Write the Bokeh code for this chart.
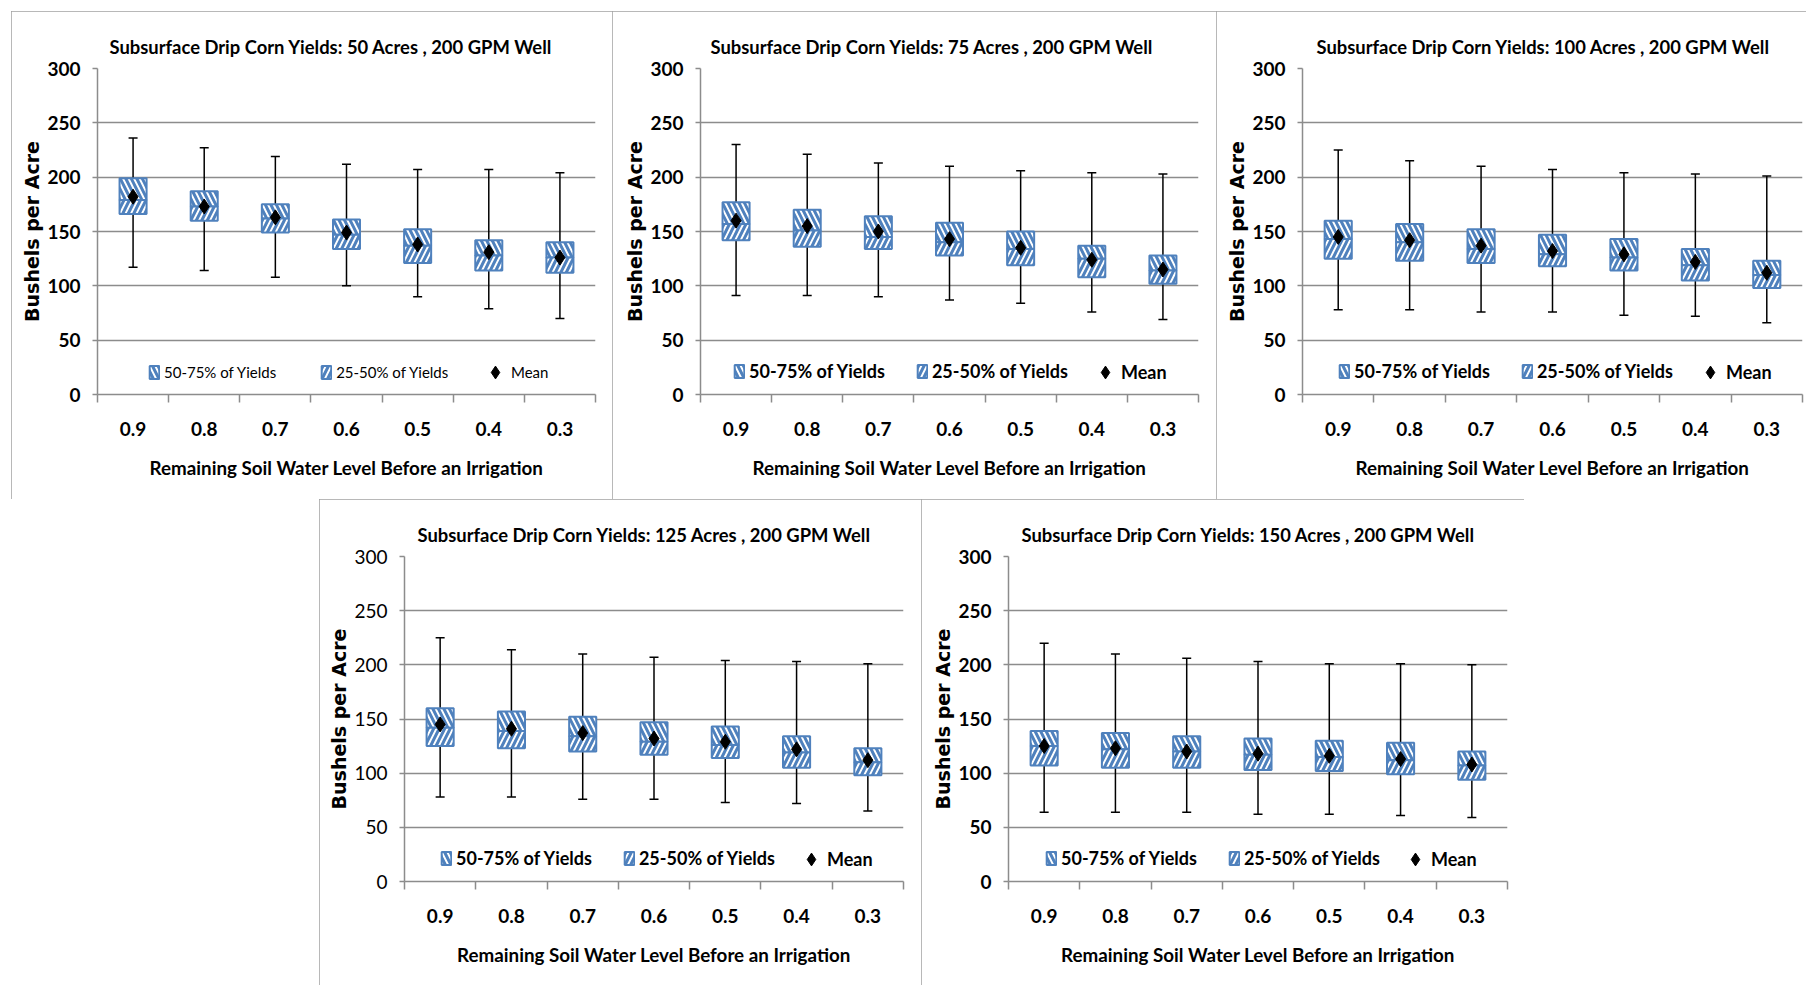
from bokeh.plotting import figure
from bokeh.models import Range1d, FixedTicker, ColumnDataSource, Spacer, Legend, LegendItem
from bokeh.core.properties import value
from bokeh.layouts import row, column
from bokeh.embed import file_html
from bokeh.resources import INLINE

# ---------------- data ----------------
levels = ["0.9", "0.8", "0.7", "0.6", "0.5", "0.4", "0.3"]
y_ticks = [0, 50, 100, 150, 200, 250, 300]
acres = [50, 75, 100, 125, 150]

high_50 = [236, 227, 219, 212, 207, 207, 204]
q3_50 = [199, 187, 175, 161, 152, 142, 140]
med_50 = [179, 173, 162, 147, 137, 128, 126]
q1_50 = [166, 160, 149, 134, 121, 114, 112]
low_50 = [117, 114, 108, 100, 90, 79, 70]
mean_50 = [182, 173, 163, 149, 138, 131, 126]

high_75 = [230, 221, 213, 210, 206, 204, 203]
q3_75 = [177, 170, 164, 158, 150, 137, 128]
med_75 = [157, 151, 145, 140, 134, 125, 114]
q1_75 = [142, 136, 134, 128, 119, 108, 102]
low_75 = [91, 91, 90, 87, 84, 76, 69]
mean_75 = [160, 155, 150, 143, 135, 124, 115]

high_100 = [225, 215, 210, 207, 204, 203, 201]
q3_100 = [160, 157, 152, 147, 143, 134, 123]
med_100 = [143, 140, 134, 129, 126, 119, 110]
q1_100 = [125, 123, 121, 118, 114, 105, 98]
low_100 = [78, 78, 76, 76, 73, 72, 66]
mean_100 = [145, 142, 137, 132, 129, 122, 112]

high_125 = [225, 214, 210, 207, 204, 203, 201]
q3_125 = [160, 157, 152, 147, 143, 134, 123]
med_125 = [142, 139, 134, 129, 126, 119, 110]
q1_125 = [125, 123, 120, 117, 114, 105, 98]
low_125 = [78, 78, 76, 76, 73, 72, 65]
mean_125 = [145, 141, 137, 132, 129, 122, 112]

high_150 = [220, 210, 206, 203, 201, 201, 200]
q3_150 = [139, 137, 134, 132, 130, 128, 120]
med_150 = [125, 122, 120, 117, 115, 112, 107]
q1_150 = [107, 105, 105, 103, 102, 99, 94]
low_150 = [64, 64, 64, 62, 62, 61, 59]
mean_150 = [125, 123, 120, 118, 116, 113, 108]

# ---------------- style ----------------
FONT = "Lato"
YFONT = "DejaVu Sans"
BLUE = "#4F81BD"
GRID = "#8C8C8C"
BORDER = "#A0A0A0"


def make_panel(acre, low, q1, med, q3, high, mean, w, h, ml, mr, mt, mb,
               title_off, leg_x, mean_x, bold_ticks=True, small_legend=False):
    p = figure(width=w, height=h, x_range=Range1d(0, len(levels)),
               y_range=Range1d(y_ticks[0], y_ticks[-1]),
               output_backend="svg", toolbar_location=None,
               min_border_left=ml, min_border_right=mr,
               min_border_top=mt, min_border_bottom=mb)
    p.styles = {"outline": f"1px solid {BORDER}", "outline-offset": "-1px"}
    p.outline_line_color = None
    p.background_fill_color = "white"
    p.border_fill_color = "white"

    xs = [i + 0.5 for i in range(len(levels))]
    src = ColumnDataSource(dict(x=xs, low=low, q1=q1, med=med, q3=q3,
                                high=high, mean=mean))

    p.segment(x0="x", y0="low", x1="x", y1="high", source=src,
              line_color="black", line_width=1.5)
    p.scatter(x="x", y="low", marker="dash", size=9, line_color="black",
              line_width=1.5, source=src)
    p.scatter(x="x", y="high", marker="dash", size=9, line_color="black",
              line_width=1.5, source=src)

    hatch = dict(fill_color="white", hatch_color=BLUE, hatch_weight=3,
                 hatch_scale=11, line_color=BLUE, line_width=2)
    upper = p.vbar(x="x", bottom="med", top="q3", width=0.38, source=src,
                   hatch_pattern="\\", **hatch)
    lower = p.vbar(x="x", bottom="q1", top="med", width=0.38, source=src,
                   hatch_pattern="/", **hatch)
    m = p.scatter(x="x", y="mean", marker="diamond", size=15, color="black",
                  source=src)

    # title
    p.title.text = f"Subsurface Drip Corn Yields: {acre} Acres , 200 GPM Well"
    p.title.align = "left"
    p.title.offset = title_off
    p.title.text_font = FONT
    p.title.text_font_size = "18.4px"
    p.title.text_font_style = "bold"
    p.title.text_color = "black"
    p.title.standoff = 22

    # x axis
    xa = p.xaxis[0]
    xa.ticker = FixedTicker(ticks=xs, minor_ticks=list(range(len(levels) + 1)))
    xa.major_label_overrides = {x: lab for x, lab in zip(xs, levels)}
    xa.major_tick_line_color = None
    xa.major_tick_out = 0
    xa.major_tick_in = 0
    xa.minor_tick_in = 0
    xa.minor_tick_out = 8
    xa.minor_tick_line_color = GRID
    xa.minor_tick_line_width = 1.5
    xa.axis_line_color = GRID
    xa.axis_line_width = 1.5
    xa.major_label_text_font = FONT
    xa.major_label_text_font_size = "19px"
    xa.major_label_text_font_style = "bold"
    xa.major_label_text_color = "black"
    xa.major_label_standoff = 19
    xa.axis_label = "Remaining Soil Water Level Before an Irrigation"
    xa.axis_label_text_font = FONT
    xa.axis_label_text_font_size = "18.8px"
    xa.axis_label_text_font_style = "bold"
    xa.axis_label_text_color = "black"
    xa.axis_label_standoff = 17

    # y axis
    ya = p.yaxis[0]
    ya.ticker = FixedTicker(ticks=y_ticks)
    ya.major_tick_out = 5
    ya.major_tick_in = 0
    ya.major_tick_line_color = GRID
    ya.major_tick_line_width = 1.5
    ya.minor_tick_line_color = None
    ya.axis_line_color = GRID
    ya.axis_line_width = 1.5
    ya.major_label_text_font = FONT
    ya.major_label_text_font_size = "19px"
    ya.major_label_text_font_style = "bold" if bold_ticks else "normal"
    ya.major_label_text_color = "black"
    ya.major_label_standoff = 12
    ya.axis_label = "Bushels per Acre"
    ya.axis_label_text_font = YFONT
    ya.axis_label_text_font_size = "19px"
    ya.axis_label_text_font_style = "bold"
    ya.axis_label_text_color = "black"
    ya.axis_label_standoff = 1

    p.xgrid.visible = False
    p.ygrid.ticker = FixedTicker(ticks=y_ticks)
    p.ygrid.grid_line_color = GRID
    p.ygrid.grid_line_width = 1.5

    # legends
    if small_legend:
        fsize, fstyle, spacing = "15px", "normal", 44
    else:
        fsize, fstyle, spacing = "18px", "bold", 31
    common = dict(orientation="horizontal", background_fill_alpha=0,
                  border_line_color=None, padding=0, margin=0,
                  label_text_font=FONT, label_text_color="black",
                  label_text_font_size=fsize, label_text_font_style=fstyle)
    leg_a = Legend(items=[LegendItem(label=value("50-75% of Yields"), renderers=[upper]),
                          LegendItem(label=value("25-50% of Yields"), renderers=[lower])],
                   location=(leg_x, 12), glyph_width=12, glyph_height=16,
                   label_height=20, label_standoff=4, spacing=spacing, **common)
    leg_b = Legend(items=[LegendItem(label=value("Mean"), renderers=[m])],
                   location=(mean_x - 13, 6), glyph_width=32, glyph_height=32,
                   label_standoff=0, **common)
    p.add_layout(leg_a)
    p.add_layout(leg_b)
    return p


p1 = make_panel(acres[0], low_50, q1_50, med_50, q3_50, high_50, mean_50,
                601, 488, 86, 17, 57, 105, 12, 51, 395, small_legend=True)
p2 = make_panel(acres[1], low_75, q1_75, med_75, q3_75, high_75, mean_75,
                604, 488, 88, 18, 57, 105, 10, 33, 402)
p3 = make_panel(acres[2], low_100, q1_100, med_100, q3_100, high_100, mean_100,
                590, 488, 86, 4, 57, 105, 14, 36, 405)
p4 = make_panel(acres[3], low_125, q1_125, med_125, q3_125, high_125, mean_125,
                602, 486, 85, 18, 57, 102, 13, 36, 404, bold_ticks=False)
p5 = make_panel(acres[4], low_150, q1_150, med_150, q3_150, high_150, mean_150,
                603, 486, 87, 17, 55, 104, 13, 37, 404)

top = row(Spacer(width=11, height=488), p1, p2, p3)
bottom = row(Spacer(width=319, height=486), p4, p5)
layout = column(Spacer(width=10, height=11), top, bottom)

open("out.html", "w").write(file_html(layout, INLINE))
